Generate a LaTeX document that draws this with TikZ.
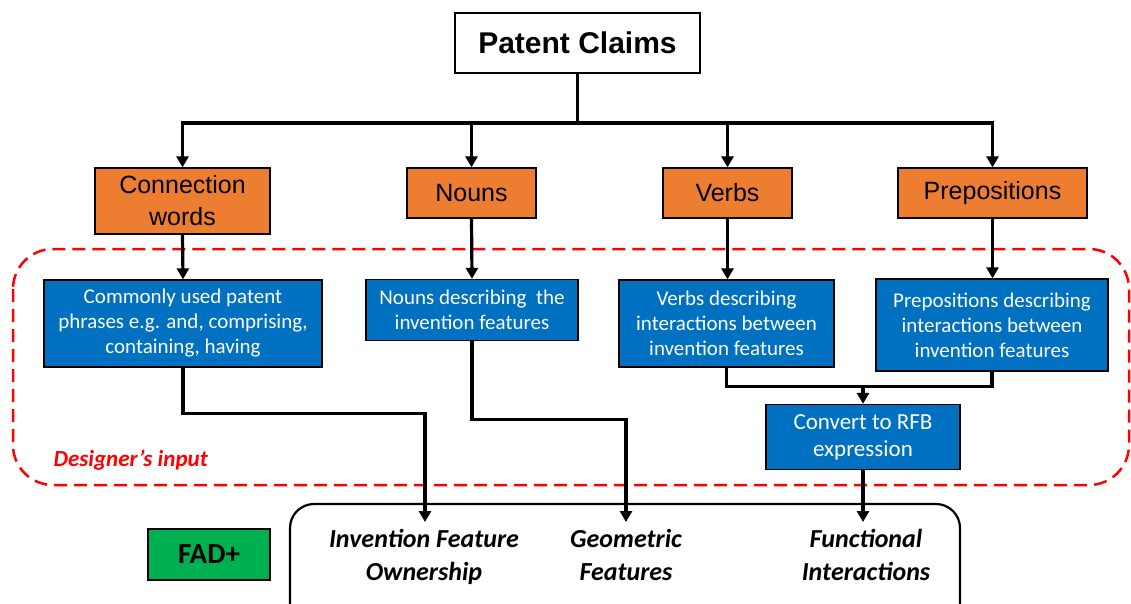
\documentclass[tikz,border=0pt]{standalone}
\usepackage{fontspec}
\setmainfont{Liberation Sans}
\newfontfamily\calibri{Carlito}
\usepackage{tikz}
\usetikzlibrary{calc,arrows.meta}

\definecolor{wordorange}{HTML}{ED7D31}
\definecolor{descblue}{HTML}{0070C0}
\definecolor{fadgreen}{HTML}{00B050}

\begin{document}
\begin{tikzpicture}[x=1pt, y=-1pt,
	claimbox/.style={draw, line width=2pt, fill=white, minimum width=245pt, minimum height=60pt, font=\fontsize{30}{34}\selectfont\bfseries},
	wordbox/.style={draw, line width=1.3pt, fill=wordorange, align=center, inner sep=0pt, font=\fontsize{25}{32}\selectfont},
	descbox/.style={draw, line width=1.3pt, fill=descblue, text=white, align=center, inner sep=0pt, font=\calibri\fontsize{21}{25}\selectfont},
	featlabel/.style={align=center, inner xsep=0pt, inner ysep=7pt, anchor=north, font=\calibri\fontsize{26}{33}\selectfont\bfseries\itshape},
	link/.style={line width=3.2pt},
	arr/.style={line width=3.2pt, -{Triangle[length=11pt,width=12pt]}}]
				\useasboundingbox (0,0) rectangle (1131,604);
				
				\node [claimbox] (claims) at (577.5,43) {Patent Claims};
				
				\node [wordbox, minimum width=175pt, minimum height=66pt] (conn) at (182.5,201) {Connection\\words};
				\node [wordbox, minimum width=129pt, minimum height=50pt] (nouns) at (471.5,193) {Nouns};
				\node [wordbox, minimum width=129pt, minimum height=50pt] (verbs) at (727.5,193) {Verbs};
				\node [wordbox, minimum width=189pt, minimum height=50pt] (preps) at (992.5,193) {Prepositions};
				
				\draw [red, line width=2.5pt, dash pattern=on 13pt off 7pt, rounded corners=40pt] (13,249) rectangle (1129,485);
				\node [anchor=west, red, font=\calibri\fontsize{23}{27}\selectfont\bfseries\itshape] (designer) at (50,460) {Designer’s input};
				
				\node [descbox, minimum width=278pt, minimum height=87pt] (common) at (183,323.5) {Commonly used patent\\phrases e.g. and, comprising,\\containing, having};
				\node [descbox, minimum width=212pt, minimum height=61pt] (nounsd) at (472,310) {Nouns describing\ \ the\\invention features};
				\node [descbox, minimum width=215pt, minimum height=87pt] (verbsd) at (726.5,323.5) {Verbs describing\\interactions between\\invention features};
				\node [descbox, minimum width=232pt, minimum height=92pt] (prepsd) at (992,325) {Prepositions describing\\interactions between\\invention features};
				\node [descbox, minimum width=194pt, minimum height=65pt, font=\calibri\fontsize{23}{27}\selectfont] (convert) at (863,437) {Convert to RFB\\expression};
				
				\node [draw, line width=1.3pt, fill=fadgreen, minimum width=122pt, minimum height=51pt, font=\calibri\fontsize{29}{32}\selectfont\bfseries] (fad) at (209,554.5) {FAD+};
				\draw [line width=2.2pt, rounded corners=24pt] (290,504) rectangle (960,650);
				
				\node [featlabel] (ifo) at (424,522) {Invention Feature\\Ownership};
				\node [featlabel] (geo) at (626,522) {Geometric\\Features};
				\node [featlabel] (func) at (866,522) {Functional\\Interactions};
				
				% claims to the four word classes
				\foreach \w in {conn,nouns,verbs,preps}
					\draw [arr] (claims.south) |- ($(claims.south)+(0,49)$) -| (\w.north);
				
				\draw [arr] (conn.south) -- (common.north);
				\draw [arr] (nouns.south) -- (nounsd.north);
				\draw [arr] (verbs.south) -- (verbs.south |- verbsd.north);
				\draw [arr] (preps.south) -- (preps.south |- prepsd.north);
				
				\draw [arr] (verbsd.south) |- ($(convert.north)+(0,-17)$) -- (convert.north);
				\draw [link] (prepsd.south) |- ($(convert.north)+(0,-17)$);
				
				\draw [arr] (common.south) -- ++(0,46) -| ($(ifo.north)+(1,0)$);
				\draw [arr] (nounsd.south) -- ++(0,78) -| (geo.north);
				\draw [arr] (convert.south) -- (convert.south |- func.north);
\end{tikzpicture}
\end{document}
